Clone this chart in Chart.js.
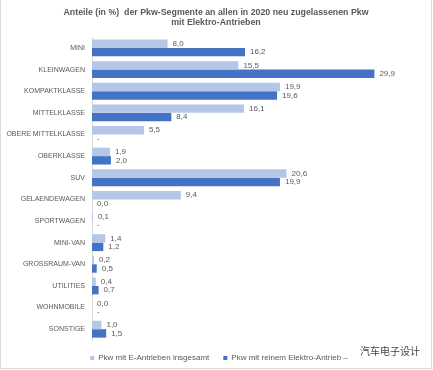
<!DOCTYPE html>
<html>
<head>
<meta charset="utf-8">
<script src="https://cdn.jsdelivr.net/npm/chart.js@4/dist/chart.umd.min.js"></script>
<style>
html, body { margin: 0; padding: 0; background: #fff; overflow: hidden; }
#wrap { position: relative; width: 433px; height: 370px; }
#wrap canvas { position: absolute; left: 0; top: 0; }
#frame { position: absolute; left: 0; top: 0; width: 430px; height: 368px; border: 1px solid #dcdcdc; border-top: 0; pointer-events: none; }
#mark { position: absolute; left: 360px; top: 343px; font: 10px "Noto Sans CJK SC"; color: #444; white-space: nowrap; }
</style>
</head>
<body>
<div id="wrap">
  <canvas id="chart" width="433" height="370"></canvas>
  <div id="frame"></div>
  <div id="mark">汽车电子设计</div>
</div>
<script>
const categories = ["MINI", "KLEINWAGEN", "KOMPAKTKLASSE", "MITTELKLASSE", "OBERE MITTELKLASSE", "OBERKLASSE", "SUV", "GELAENDEWAGEN", "SPORTWAGEN", "MINI-VAN", "GROSSRAUM-VAN", "UTILITIES", "WOHNMOBILE", "SONSTIGE"];
const eAntriebe = [8.0, 15.5, 19.9, 16.1, 5.5, 1.9, 20.6, 9.4, 0.1, 1.4, 0.2, 0.4, 0.0, 1.0];
const reinElektro = [16.2, 29.9, 19.6, 8.4, null, 2.0, 19.9, 0.0, null, 1.2, 0.5, 0.7, null, 1.5];
const titleLines = ["Anteile (in %)  der Pkw-Segmente an allen in 2020 neu zugelassenen Pkw", "mit Elektro-Antrieben"];
const seriesNames = ["Pkw mit E-Antrieben insgesamt", "Pkw mit reinem Elektro-Antrieb –"];

const grey = "#595959";

// value labels next to the bars, "-" where there is no value
const valueLabels = {
    id: "valueLabels",
    beforeDraw(chart) {
        // legend sits a little right of centre in the reference
        chart.legend.left += 3;
        chart.legend.right += 3;
    },
    afterDatasetsDraw(chart) {
        const ctx = chart.ctx;
        const xScale = chart.scales.x;
        ctx.save();
        ctx.font = "8px 'Liberation Sans'";
        ctx.fillStyle = grey;
        ctx.textBaseline = "middle";
        chart.data.datasets.forEach((ds, i) => {
            chart.getDatasetMeta(i).data.forEach((bar, j) => {
                const v = ds.data[j];
                const text = v === null ? "-" : v.toFixed(1).replace(".", ",");
                const x = xScale.getPixelForValue(v === null ? 0 : v) + 5;
                ctx.fillText(text, x, bar.y);
            });
        });
        ctx.restore();
    }
};

new Chart(document.getElementById("chart").getContext("2d"), {
    type: "bar",
    data: {
        labels: categories,
        datasets: [
            { label: seriesNames[0], data: eAntriebe, backgroundColor: "#b4c7e7", categoryPercentage: 0.78, barPercentage: 1 },
            { label: seriesNames[1], data: reinElektro, backgroundColor: "#4472c4", categoryPercentage: 0.78, barPercentage: 1 }
        ]
    },
    options: {
        indexAxis: "y",
        responsive: false,
        animation: false,
        layout: { padding: { left: 0, right: 1, top: 0, bottom: -2 } },
        scales: {
            x: { display: false, min: 0, max: 36 },
            y: {
                afterFit(axis) { axis.width = 92; },
                grid: { display: false, drawTicks: false },
                border: { color: "#d9d9d9" },
                ticks: { color: grey, font: { family: "Liberation Sans", size: 7 }, padding: 7, autoSkip: false }
            }
        },
        plugins: {
            title: {
                display: true,
                text: titleLines,
                color: grey,
                font: { family: "Liberation Sans", size: 8.8, weight: "bold" },
                padding: { top: 7, bottom: 9 },
                lineHeight: 1.15
            },
            legend: {
                position: "bottom",
                align: "center",
                labels: {
                    color: grey,
                    font: { family: "Liberation Sans", size: 8 },
                    boxWidth: 4,
                    boxHeight: 4,
                    padding: 14
                }
            },
            tooltip: { enabled: false }
        }
    },
    plugins: [valueLabels]
});
</script>
</body>
</html>
